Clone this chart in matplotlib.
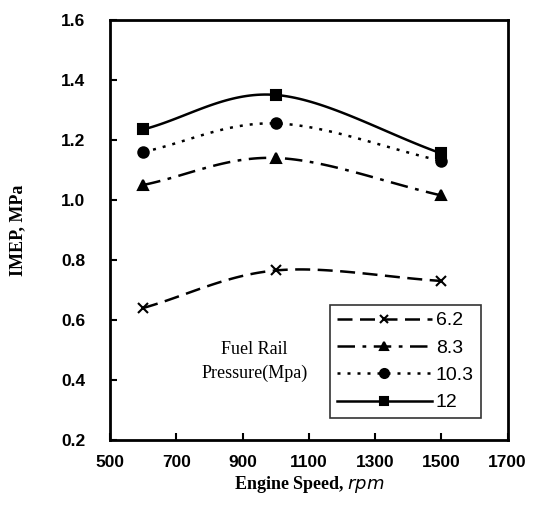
import numpy as np
import matplotlib
matplotlib.use('Agg')
import matplotlib.pyplot as plt

# ─── Data ───
speed = [600, 1000, 1500]
imep_62 = [0.64, 0.765, 0.73]
imep_83 = [1.05, 1.14, 1.015]
imep_103 = [1.16, 1.255, 1.13]
imep_12 = [1.235, 1.35, 1.155]
pressures = ['6.2', '8.3', '10.3', '12']
x_ticks = [500, 700, 900, 1100, 1300, 1500, 1700]
y_ticks = [0.2, 0.4, 0.6, 0.8, 1.0, 1.2, 1.4, 1.6]


def smooth(x, y, n=40):
    # Catmull-Rom style smoothing, like the spreadsheet "smoothed line"
    x = np.asarray(x, float)
    y = np.asarray(y, float)
    px = np.concatenate([[2 * x[0] - x[1]], x, [2 * x[-1] - x[-2]]])
    py = np.concatenate([[2 * y[0] - y[1]], y, [2 * y[-1] - y[-2]]])
    xs, ys = [], []
    t = np.linspace(0, 1, n)
    for i in range(1, len(px) - 2):
        p0, p1, p2, p3 = [np.array([px[j], py[j]]) for j in range(i - 1, i + 3)]
        m1 = (p2 - p0) / 2
        m2 = (p3 - p1) / 2
        h00 = 2 * t**3 - 3 * t**2 + 1
        h10 = t**3 - 2 * t**2 + t
        h01 = -2 * t**3 + 3 * t**2
        h11 = t**3 - t**2
        seg = (np.outer(h00, p1) + np.outer(h10, m1) + np.outer(h01, p2)
               + np.outer(h11, m2))
        xs.extend(seg[:, 0])
        ys.extend(seg[:, 1])
    return np.array(xs), np.array(ys)


fig = plt.figure(figsize=(5.4, 5.11), dpi=100)
ax = fig.add_axes([0.204, 0.139, 0.736, 0.822])

series = [imep_62, imep_83, imep_103, imep_12]
styles = [
    dict(ls=(0, (6, 3)), marker='x', ms=6.5, mfc='black'),
    dict(ls=(0, (7, 3, 1.5, 3)), marker='^', ms=6.5, mfc='black'),
    dict(ls=(0, (1.2, 2.8)), marker='o', ms=7.5, mfc='black'),
    dict(ls='-', marker='s', ms=7, mfc='black'),
]

handles = []
for vals, st, lab in zip(series, styles, pressures):
    sx, sy = smooth(speed, vals)
    ax.plot(sx, sy, color='black', lw=1.8, linestyle=st['ls'])
    ax.plot(speed, vals, ls='none', marker=st['marker'], ms=st['ms'],
            color='black', mfc=st['mfc'], mew=1.5)
    h, = ax.plot([], [], color='black', lw=1.8, linestyle=st['ls'],
                 marker=st['marker'], ms=st['ms'] - 1, mfc=st['mfc'], mew=1.5)
    handles.append(h)

ax.set_xlim(500, 1700)
ax.set_ylim(0.2, 1.6)
ax.set_xticks(x_ticks)
ax.set_yticks(y_ticks)
ax.set_xticklabels([str(v) for v in x_ticks], fontfamily='Liberation Sans',
                   fontsize=12.5, fontweight='bold')
ax.set_yticklabels([f'{v:.1f}' for v in y_ticks], fontfamily='Liberation Sans',
                   fontsize=12.5, fontweight='bold')
ax.tick_params(direction='in', length=5, width=1.5)
ax.tick_params(axis='x', pad=11)
ax.tick_params(axis='y', pad=18)
for s in ax.spines.values():
    s.set_linewidth(2)

ax.set_xlabel('Engine Speed, $\\it{rpm}$', fontfamily='Liberation Serif',
              fontsize=13, fontweight='bold', labelpad=3)
ax.set_ylabel('IMEP, MPa', fontfamily='Liberation Serif', fontsize=13,
              fontweight='bold')
ax.yaxis.set_label_coords(-0.21, 0.5)

leg = ax.legend(handles, pressures, loc='lower right',
                bbox_to_anchor=(0.932, 0.052), handlelength=4.9,
                prop={'family': 'Liberation Sans', 'size': 14},
                frameon=True, fancybox=False, edgecolor='black',
                borderpad=0.35, labelspacing=0.5, handletextpad=0.2,
                borderaxespad=0.0)
leg.get_frame().set_linewidth(1.2)

ax.text(935, 0.463, 'Fuel Rail\nPressure(Mpa)', ha='center', va='center',
        fontfamily='Liberation Serif', fontsize=13, linespacing=1.5)

fig.savefig('out.png', dpi=100)
